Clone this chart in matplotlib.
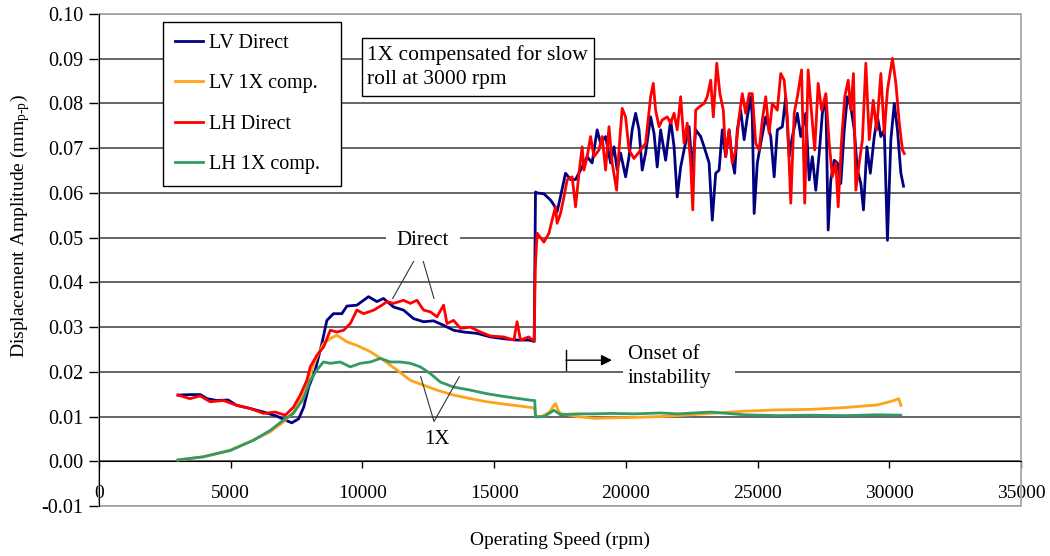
import matplotlib
matplotlib.use('Agg')
import matplotlib.pyplot as plt
from matplotlib.patches import Rectangle
from matplotlib.ticker import FormatStrFormatter

plt.rcParams['font.family'] = ['Liberation Serif', 'DejaVu Serif']
plt.rcParams['mathtext.fontset'] = 'custom'
plt.rcParams['mathtext.rm'] = 'Liberation Serif'
plt.rcParams['mathtext.it'] = 'Liberation Serif:italic'
plt.rcParams['axes.unicode_minus'] = False

# ---- data (rpm, mm p-p) ----
lv_direct_rpm = [3000, 3450, 3850, 4100, 4470, 4900, 5230, 5740, 6250, 6750,
                 7070, 7320, 7580, 7770, 7960, 8210, 8460, 8650, 8900, 9220,
                 9410, 9790, 10230, 10550, 10800, 11180, 11560, 11940, 12320, 12700,
                 13080, 13460, 13840, 14350, 14860, 15360, 15870, 16310, 16520,
                 16570, 16630, 16890, 17140, 17270, 17390, 17520, 17710, 17900, 18090,
                 18280, 18530, 18720, 18910, 19040, 19230, 19420, 19550, 19670, 19800,
                 19990, 20120, 20240, 20370, 20500, 20620, 20750, 20940, 21070, 21190,
                 21320, 21510, 21700, 21830, 21950, 22080, 22210, 22400, 22520, 22650,
                 22840, 22970, 23160, 23280, 23410, 23540, 23660, 23790, 23920, 24040,
                 24130, 24230, 24360, 24490, 24610, 24740, 24800, 24870, 24990, 25120,
                 25310, 25500, 25630, 25750, 25940, 26070, 26200, 26320, 26510, 26640,
                 26830, 26960, 27080, 27210, 27340, 27460, 27590, 27680, 27780, 27910,
                 28030, 28160, 28290, 28410, 28540, 28670, 28790, 28920, 29020, 29150,
                 29280, 29430, 29550, 29680, 29810, 29930, 30060, 30190, 30310, 30440,
                 30540]
lv_direct = [0.0148, 0.0149, 0.0149, 0.0140, 0.0136, 0.0137, 0.0125, 0.0118, 0.0110, 0.0101,
             0.0092, 0.0086, 0.0095, 0.0121, 0.0166, 0.0204, 0.0263, 0.0315, 0.0330, 0.0330,
             0.0347, 0.0349, 0.0368, 0.0357, 0.0364, 0.0345, 0.0338, 0.0319, 0.0312, 0.0314,
             0.0304, 0.0293, 0.0289, 0.0286, 0.0278, 0.0274, 0.0271, 0.0271, 0.0268,
             0.0602, 0.0600, 0.0598, 0.0584, 0.0573, 0.0558, 0.0592, 0.0644, 0.0630, 0.0630,
             0.0651, 0.0681, 0.0667, 0.0741, 0.0711, 0.0726, 0.0667, 0.0703, 0.0651, 0.0689,
             0.0636, 0.0681, 0.0741, 0.0778, 0.0741, 0.0651, 0.0689, 0.0770, 0.0733, 0.0658,
             0.0741, 0.0673, 0.0763, 0.0703, 0.0591, 0.0658, 0.0696, 0.0748, 0.0651, 0.0741,
             0.0726, 0.0703, 0.0667, 0.0539, 0.0644, 0.0651, 0.0741, 0.0681, 0.0741, 0.0673,
             0.0644, 0.0741, 0.0785, 0.0719, 0.0770, 0.0815, 0.0770, 0.0554, 0.0667, 0.0711,
             0.0770, 0.0726, 0.0636, 0.0741, 0.0748, 0.0815, 0.0681, 0.0726, 0.0778, 0.0726,
             0.0778, 0.0629, 0.0681, 0.0606, 0.0689, 0.0778, 0.0815, 0.0517, 0.0629, 0.0673,
             0.0667, 0.0621, 0.0741, 0.0815, 0.0792, 0.0741, 0.0651, 0.0621, 0.0562, 0.0703,
             0.0644, 0.0726, 0.0770, 0.0726, 0.0741, 0.0494, 0.0719, 0.0800, 0.0741, 0.0644,
             0.0615]

lv_1x_rpm = [3000, 3960, 4980, 5860, 6500, 7000, 7380, 7760, 8020, 8270,
             8520, 8780, 9030, 9410, 9790, 10300, 10800, 11310, 11820, 12320,
             12830, 13460, 14100, 14730, 15360, 16440, 16540, 16570, 16800, 17100,
             17270, 17330, 17450, 17520, 18150, 18790, 19420, 20310, 21320, 21950,
             23220, 24490, 25750, 27020, 28290, 28920, 29550, 30190, 30360, 30440]
lv_1x = [0.0003, 0.0010, 0.0025, 0.0047, 0.0066, 0.0088, 0.0110, 0.0151, 0.0196, 0.0233,
         0.0263, 0.0274, 0.0282, 0.0267, 0.0259, 0.0245, 0.0226, 0.0204, 0.0181, 0.0170,
         0.0159, 0.0148, 0.0140, 0.0133, 0.0128, 0.0120, 0.0118, 0.0101, 0.0100, 0.0110,
         0.0125, 0.0129, 0.0112, 0.0107, 0.0100, 0.0096, 0.0097, 0.0098, 0.0100, 0.0102,
         0.0107, 0.0112, 0.0115, 0.0116, 0.0120, 0.0123, 0.0126, 0.0136, 0.0140, 0.0125]

lh_direct_rpm = [3000, 3450, 3840, 4220, 4720, 5230, 5740, 6250, 6690, 7070,
                 7380, 7640, 7890, 8020, 8270, 8530, 8780, 9030, 9290, 9540,
                 9790, 10050, 10430, 10740, 10930, 11180, 11560, 11820, 12070, 12320,
                 12580, 12830, 13080, 13210, 13460, 13720, 14100, 14480, 14860, 15360,
                 15750, 15870, 16000, 16310, 16520,
                 16560, 16630, 16890, 17080, 17200, 17330, 17390, 17520, 17650, 17770,
                 17960, 18090, 18220, 18340, 18410, 18530, 18660, 18790, 18980, 19100,
                 19230, 19360, 19480, 19650, 19740, 19860, 19990, 20120, 20310, 20560,
                 20750, 20940, 21040, 21130, 21260, 21380, 21570, 21700, 21830, 21950,
                 22080, 22210, 22330, 22460, 22540, 22650, 22780, 22970, 23090, 23220,
                 23320, 23450, 23570, 23700, 23790, 23920, 24040, 24170, 24300, 24420,
                 24550, 24680, 24800, 24930, 25060, 25180, 25310, 25440, 25560, 25750,
                 25880, 26010, 26130, 26260, 26390, 26510, 26670, 26790, 26920, 27050,
                 27170, 27300, 27430, 27590, 27720, 27840, 27970, 28060, 28190, 28310,
                 28440, 28540, 28640, 28730, 28860, 28980, 29110, 29240, 29390, 29520,
                 29680, 29810, 29930, 30120, 30250, 30380, 30500, 30570]
lh_direct = [0.0148, 0.0140, 0.0146, 0.0133, 0.0136, 0.0125, 0.0118, 0.0107, 0.0110, 0.0103,
             0.0121, 0.0148, 0.0181, 0.0211, 0.0237, 0.0256, 0.0293, 0.0289, 0.0293, 0.0308,
             0.0338, 0.0330, 0.0338, 0.0349, 0.0357, 0.0353, 0.0360, 0.0353, 0.0360, 0.0338,
             0.0334, 0.0323, 0.0349, 0.0308, 0.0315, 0.0297, 0.0300, 0.0289, 0.0280, 0.0278,
             0.0271, 0.0312, 0.0271, 0.0278, 0.0268,
             0.0430, 0.0510, 0.0490, 0.0510, 0.0539, 0.0569, 0.0532, 0.0554, 0.0591, 0.0629,
             0.0636, 0.0569, 0.0644, 0.0703, 0.0651, 0.0681, 0.0726, 0.0681, 0.0696, 0.0726,
             0.0651, 0.0748, 0.0667, 0.0606, 0.0696, 0.0789, 0.0770, 0.0696, 0.0677, 0.0696,
             0.0711, 0.0815, 0.0845, 0.0785, 0.0748, 0.0763, 0.0770, 0.0756, 0.0778, 0.0741,
             0.0815, 0.0711, 0.0756, 0.0667, 0.0562, 0.0785, 0.0792, 0.0800, 0.0815, 0.0852,
             0.0770, 0.0890, 0.0822, 0.0785, 0.0681, 0.0741, 0.0667, 0.0696, 0.0770, 0.0822,
             0.0778, 0.0822, 0.0822, 0.0711, 0.0696, 0.0763, 0.0815, 0.0733, 0.0800, 0.0785,
             0.0867, 0.0852, 0.0770, 0.0577, 0.0778, 0.0815, 0.0875, 0.0577, 0.0875, 0.0778,
             0.0696, 0.0845, 0.0785, 0.0822, 0.0711, 0.0636, 0.0667, 0.0569, 0.0719, 0.0815,
             0.0852, 0.0785, 0.0867, 0.0606, 0.0667, 0.0719, 0.0890, 0.0719, 0.0807, 0.0741,
             0.0867, 0.0733, 0.0830, 0.0901, 0.0845, 0.0756, 0.0696, 0.0688]

lh_1x_rpm = [3000, 3960, 4980, 5860, 6500, 7000, 7380, 7760, 8020, 8270,
             8520, 8780, 9160, 9540, 9920, 10300, 10680, 11060, 11440, 11820,
             12200, 12580, 12960, 13460, 14100, 14730, 15360, 16440, 16540, 16570,
             16900, 17270, 17520, 18150, 18790, 19420, 20310, 21320, 21950, 23220,
             24490, 25750, 27020, 28290, 29550, 30440]
lh_1x = [0.0003, 0.0010, 0.0024, 0.0047, 0.0069, 0.0092, 0.0107, 0.0140, 0.0181, 0.0204,
         0.0222, 0.0219, 0.0222, 0.0211, 0.0219, 0.0222, 0.0230, 0.0222, 0.0222, 0.0219,
         0.0211, 0.0196, 0.0177, 0.0166, 0.0159, 0.0151, 0.0145, 0.0136, 0.0136, 0.0099,
         0.0100, 0.0114, 0.0104, 0.0106, 0.0106, 0.0107, 0.0106, 0.0108, 0.0106, 0.0110,
         0.0104, 0.0102, 0.0103, 0.0102, 0.0104, 0.0103]

x_ticks = [0, 5000, 10000, 15000, 20000, 25000, 30000, 35000]
y_ticks = [-0.01, 0.00, 0.01, 0.02, 0.03, 0.04, 0.05, 0.06, 0.07, 0.08, 0.09, 0.10]

fig = plt.figure(figsize=(10.5, 5.56), dpi=100)
ax = fig.add_axes([99 / 1050, 1 - 506 / 556, 922 / 1050, 492 / 556])

ax.plot(lv_direct_rpm, lv_direct, color='#000080', lw=2.0, label='LV Direct', zorder=3)
ax.plot(lv_1x_rpm, lv_1x, color='#FFA31A', lw=2.0, label='LV 1X comp.', zorder=3)
ax.plot(lh_direct_rpm, lh_direct, color='#FF0000', lw=2.0, label='LH Direct', zorder=3)
ax.plot(lh_1x_rpm, lh_1x, color='#339966', lw=2.0, label='LH 1X comp.', zorder=3)

ax.set_xlim(0, 35000)
ax.set_ylim(-0.01, 0.10)
ax.set_xticks(x_ticks)
ax.set_yticks(y_ticks)
ax.yaxis.set_major_formatter(FormatStrFormatter('%.2f'))

# horizontal gridlines
ax.set_axisbelow(True)
ax.grid(axis='y', color='#3a3a3a', lw=1.1)

# spines: x axis crosses at 0, grey plot-area border
for s in ['top', 'right']:
    ax.spines[s].set_visible(False)
ax.spines['bottom'].set_position(('data', 0))
ax.spines['bottom'].set_color('black')
ax.spines['left'].set_color('black')
ax.add_patch(Rectangle((0, 0), 1, 1, transform=ax.transAxes, fill=False,
                       edgecolor='#a8a8a8', lw=1.3, clip_on=False, zorder=2.4))

ax.tick_params(axis='x', direction='out', length=5, width=1, pad=12, labelsize=14)
ax.tick_params(axis='y', direction='out', length=7, width=1, pad=4, labelsize=14.5)

# legend
leg = ax.legend(loc='upper left', bbox_to_anchor=(0.0694, 0.620, 0.1931, 0.3637),
                mode='expand', borderaxespad=0, fontsize=14.5, labelspacing=1.05,
                borderpad=0.6, handlelength=1.4, handletextpad=0.3,
                fancybox=False, edgecolor='black', framealpha=1)
leg.get_frame().set_linewidth(1.0)
leg.set_zorder(6)

# note box
ax.add_patch(Rectangle((0.2852, 0.8333), 0.2517, 0.1179, transform=ax.transAxes,
                       facecolor='white', edgecolor='black', lw=1, zorder=4))
ax.text(0.2907, 0.8913, '1X compensated for slow\nroll at 3000 rpm', transform=ax.transAxes,
        fontsize=15.5, ha='left', va='center', linespacing=1.35, zorder=5)

# "Direct" callout
ax.plot([11149, 12185, 12717], [0.0364, 0.0472, 0.0364], color='#333333', lw=0.8, zorder=4)
ax.text(12300, 0.0494, 'Direct', fontsize=15, ha='center', va='center', zorder=5,
        bbox=dict(facecolor='white', edgecolor='none', pad=8))

# "1X" callout
ax.plot([12212, 12717, 13677], [0.0189, 0.0089, 0.0189], color='#333333', lw=0.8, zorder=4)
ax.text(12831, 0.0048, '1X', fontsize=15, ha='center', va='center', zorder=5)

# onset of instability
ax.add_patch(Rectangle((19891, 0.0148), 4252, 0.0123, facecolor='white',
                       edgecolor='none', zorder=2.6))
ax.text(20081, 0.0212, 'Onset of\ninstability', fontsize=15, ha='left', va='center',
        linespacing=1.3, zorder=5)
ax.plot([17727, 17727], [0.0204, 0.0249], color='black', lw=1, zorder=5)
ax.annotate('', xy=(19474, 0.0226), xytext=(17727, 0.0226),
            arrowprops=dict(arrowstyle='-|>', color='black', lw=1, mutation_scale=16,
                            shrinkA=0, shrinkB=0), zorder=5)

fig.text(560 / 1050, 1 - 540 / 556, 'Operating Speed (rpm)', fontsize=14,
         ha='center', va='center')
fig.text(20 / 1050, 1 - 226 / 556, r'Displacement Amplitude (mm$_{\mathrm{p}\text{-}\mathrm{p}}$)',
         fontsize=14, rotation=90, ha='center', va='center')

fig.savefig('out.png', dpi=100)
